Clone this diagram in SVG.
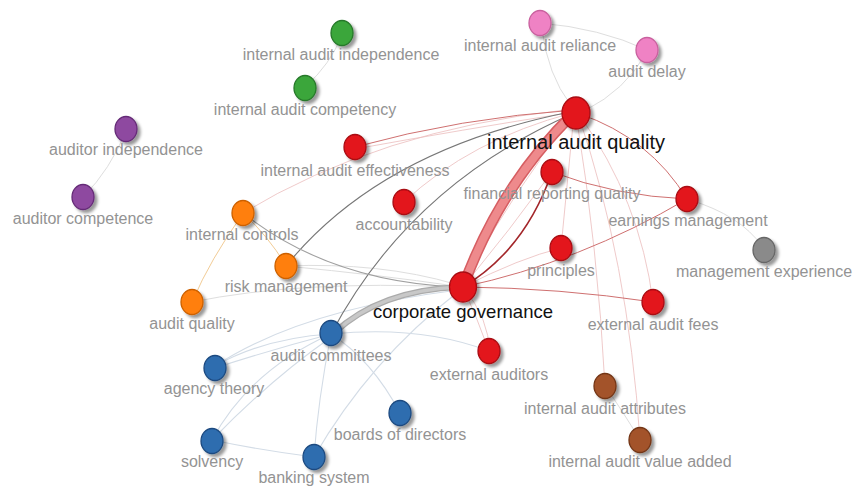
<svg xmlns="http://www.w3.org/2000/svg" width="853" height="488" viewBox="0 0 853 488">
  <defs>
    <filter id="shadow" x="-50%" y="-50%" width="200%" height="200%">
      <feDropShadow dx="3" dy="3" stdDeviation="1.8" flood-color="#000" flood-opacity="0.4"/>
    </filter>
    <style>
      .lbl { font-family: "Liberation Sans", Arial, sans-serif; font-size: 16px; fill: #939393; text-anchor: middle; }
      .big { font-family: "Liberation Sans", Arial, sans-serif; fill: #111; text-anchor: middle; }
      .n { filter: url(#shadow); stroke-width: 1.3; }
      .red { fill: #e3141c; stroke: #a80c12; }
      .green { fill: #3aa63a; stroke: #27782a; }
      .purple { fill: #8e48a0; stroke: #652c77; }
      .orange { fill: #ff7f0a; stroke: #cc6000; }
      .pink { fill: #ef82c4; stroke: #c9609e; }
      .gray { fill: #8a8a8a; stroke: #666; }
      .blue { fill: #2e6daf; stroke: #1c4a80; }
      .brown { fill: #a3532a; stroke: #733515; }
      .e { fill: none; stroke-linecap: round; }
      .faint { stroke: #dedede; stroke-width: 1; }
      .fblue { stroke: #d3dce6; stroke-width: 1.1; }
      .fred { stroke: #ebbcbc; stroke-width: 0.8; }
      .red1 { stroke: #cf7070; stroke-width: 1; }
      .dred { stroke: #a3262a; stroke-width: 1.6; }
      .dgray { stroke: #777; stroke-width: 1.1; }
      .mgray { stroke: #a0a0a0; stroke-width: 1.1; }
      .forange { stroke: #f2cc96; stroke-width: 1; }
    </style>
  </defs>
  <rect width="853" height="488" fill="#fff"/>

  <!-- connectors -->
  <g id="edges">
    <!-- faint background links -->
    <path class="e faint" d="M342,35 Q330,65 306,86"/>
    <path class="e faint" d="M126,131 Q110,170 84,196"/>
    <path class="e faint" d="M540,23 Q600,28 647,50"/>
    <path class="e faint" d="M542,30 Q548,75 570,104"/>
    <path class="e faint" d="M645,55 Q625,90 586,110"/>
    <path class="e faint" d="M690,200 Q740,215 762,246"/>
    <path class="e fred" d="M243,213 Q380,130 565,110"/>
    <path class="e forange" d="M242,215 Q210,260 193,300"/>
    <path class="e forange" d="M244,214 Q268,236 285,264"/>
    <path class="e faint" d="M192,302 Q300,280 455,287"/>
    <path class="e faint" d="M286,266 Q380,275 455,286"/>
    <path class="e faint" d="M286,266 Q380,262 455,284"/>
    <!-- audit committee cluster -->
    <path class="e fblue" d="M215,366 Q265,338 331,334"/>
    <path class="e fblue" d="M215,368 Q270,350 331,334"/>
    <path class="e fblue" d="M215,366 Q300,310 458,290"/>
    <path class="e fblue" d="M212,440 Q250,370 331,334"/>
    <path class="e fblue" d="M212,440 Q270,380 330,338"/>
    <path class="e fblue" d="M212,440 Q260,450 314,457"/>
    <path class="e fblue" d="M314,457 Q318,400 331,334"/>
    <path class="e fblue" d="M314,457 Q370,360 458,292"/>
    <path class="e fblue" d="M331,334 Q372,360 400,413"/>
    <path class="e fblue" d="M331,334 Q420,325 489,351"/>
    <path class="e fred" d="M463,287 Q478,320 489,351"/>
    <path class="e fred" d="M463,287 Q490,320 489,351"/>
    <!-- internal audit quality hub -->
    <path class="e red1" d="M355,147 Q460,118 574,110"/>
    <path class="e fred" d="M355,149 Q460,130 574,112"/>
    <path class="e fred" d="M404,202 Q470,140 572,113"/>
    <path class="e dgray" d="M286,266 Q380,150 570,112"/>
    <path class="e dgray" d="M331,334 Q410,185 572,114"/>
    <path class="e mgray" d="M243,213 Q330,282 458,287"/>
    <path class="e fred" d="M574,114 L561,248"/>
    <path class="e fred" d="M576,114 Q598,250 605,386"/>
    <path class="e fred" d="M578,114 Q628,260 640,440"/>
    <path class="e fred" d="M580,116 Q640,200 653,302"/>
    <path class="e faint" d="M605,386 Q622,410 640,440"/>
    <path class="e red1" d="M580,114 Q650,138 687,199"/>
    <path class="e red1" d="M552,172 Q615,196 687,199"/>
    <path class="e fred" d="M463,287 Q510,230 552,172"/>
    <path class="e fred" d="M463,287 Q520,258 561,248"/>
    <path class="e fred" d="M463,287 Q490,230 540,160"/>
    <path class="e red1" d="M463,287 Q580,262 687,199"/>
    <path class="e red1" d="M463,287 Q560,288 653,302"/>
    <path class="e dred" d="M463,287 Q525,250 552,172"/>
    <!-- strongest links -->
    <path class="e" d="M334,333 Q380,290 460,287" stroke="#ababab" stroke-width="6"/>
    <path class="e" d="M334,333 Q380,290 460,287" stroke="#c8c8c8" stroke-width="3.5"/>
    <path class="e" d="M463,287 Q500,185 574,113" stroke="#d65e62" stroke-width="11"/>
    <path class="e" d="M463,287 Q500,185 574,113" stroke="#ee8a8c" stroke-width="8"/>
  </g>

  <!-- nodes -->
  <g id="internal-audit-independence"><ellipse class="n green" cx="342" cy="33" rx="11" ry="12.5"/><text class="lbl" x="341" y="60">internal audit independence</text></g>
  <g id="internal-audit-competency"><ellipse class="n green" cx="305" cy="88" rx="11" ry="12.5"/><text class="lbl" x="305" y="115">internal audit competency</text></g>
  <g id="auditor-independence"><ellipse class="n purple" cx="126" cy="129" rx="11" ry="12.5"/><text class="lbl" x="126" y="155">auditor independence</text></g>
  <g id="auditor-competence"><ellipse class="n purple" cx="83" cy="197" rx="11" ry="12.5"/><text class="lbl" x="83" y="224">auditor competence</text></g>
  <g id="internal-audit-effectiveness"><ellipse class="n red" cx="355" cy="147" rx="11" ry="12.5"/><text class="lbl" x="355" y="176">internal audit effectiveness</text></g>
  <g id="accountability"><ellipse class="n red" cx="404" cy="202" rx="11" ry="12.5"/><text class="lbl" x="404" y="230">accountability</text></g>
  <g id="internal-controls"><ellipse class="n orange" cx="243" cy="213" rx="11" ry="12.5"/><text class="lbl" x="242" y="240">internal controls</text></g>
  <g id="risk-management"><ellipse class="n orange" cx="286" cy="266" rx="11" ry="12.5"/><text class="lbl" x="286" y="292">risk management</text></g>
  <g id="audit-quality"><ellipse class="n orange" cx="192" cy="302" rx="11" ry="12.5"/><text class="lbl" x="192" y="329">audit quality</text></g>
  <g id="internal-audit-reliance"><ellipse class="n pink" cx="540" cy="23" rx="11" ry="12.5"/><text class="lbl" x="540" y="51">internal audit reliance</text></g>
  <g id="audit-delay"><ellipse class="n pink" cx="647" cy="50" rx="11" ry="12.5"/><text class="lbl" x="647" y="77">audit delay</text></g>
  <g id="financial-reporting-quality"><ellipse class="n red" cx="552" cy="172" rx="11" ry="12.5"/><text class="lbl" x="552" y="199">financial reporting quality</text></g>
  <g id="earnings-management"><ellipse class="n red" cx="687" cy="199" rx="11" ry="12.5"/><text class="lbl" x="688" y="226">earnings management</text></g>
  <g id="management-experience"><ellipse class="n gray" cx="764" cy="250" rx="11" ry="12.5"/><text class="lbl" x="764" y="277">management experience</text></g>
  <g id="principles"><ellipse class="n red" cx="561" cy="248" rx="11" ry="12.5"/><text class="lbl" x="561" y="276">principles</text></g>
  <g id="external-audit-fees"><ellipse class="n red" cx="653" cy="302" rx="11" ry="12.5"/><text class="lbl" x="653" y="330">external audit fees</text></g>
  <g id="external-auditors"><ellipse class="n red" cx="489" cy="351" rx="11" ry="12.5"/><text class="lbl" x="489" y="380">external auditors</text></g>
  <g id="internal-audit-attributes"><ellipse class="n brown" cx="605" cy="386" rx="11" ry="12.5"/><text class="lbl" x="605" y="414">internal audit attributes</text></g>
  <g id="internal-audit-value-added"><ellipse class="n brown" cx="640" cy="440" rx="11" ry="12.5"/><text class="lbl" x="640" y="467">internal audit value added</text></g>
  <g id="audit-committees"><ellipse class="n blue" cx="331" cy="333" rx="11" ry="12.5"/><text class="lbl" x="331" y="361">audit committees</text></g>
  <g id="agency-theory"><ellipse class="n blue" cx="215" cy="368" rx="11" ry="12.5"/><text class="lbl" x="214" y="394">agency theory</text></g>
  <g id="boards-of-directors"><ellipse class="n blue" cx="400" cy="413" rx="11" ry="12.5"/><text class="lbl" x="400" y="440">boards of directors</text></g>
  <g id="solvency"><ellipse class="n blue" cx="212" cy="441" rx="11" ry="12.5"/><text class="lbl" x="212" y="467">solvency</text></g>
  <g id="banking-system"><ellipse class="n blue" cx="314" cy="457" rx="11" ry="12.5"/><text class="lbl" x="314" y="483">banking system</text></g>
  <g id="corporate-governance"><ellipse class="n red" cx="463" cy="287" rx="13.5" ry="15"/><text class="big" x="463" y="318" font-size="18.5">corporate governance</text></g>
  <g id="internal-audit-quality"><ellipse class="n red" cx="576" cy="113" rx="14" ry="16"/><text class="big" x="576" y="149" font-size="20">internal audit quality</text></g>
</svg>
